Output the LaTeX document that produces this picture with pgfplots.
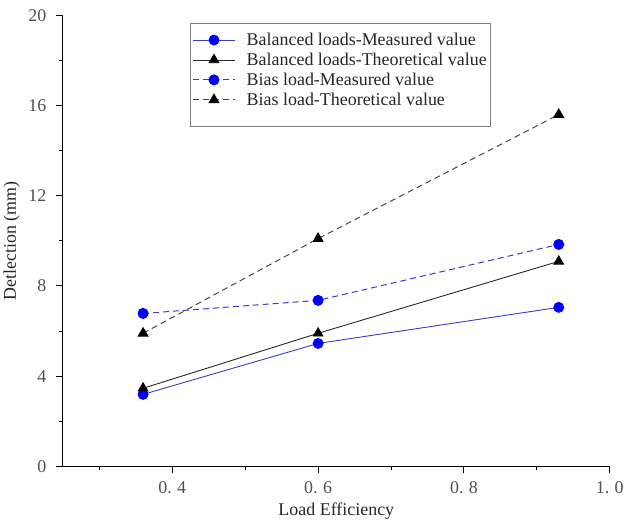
\documentclass[border=0pt]{standalone}
\usepackage{fontspec}
\setmainfont{Liberation Serif}
\usepackage{pgfplots}
\pgfplotsset{compat=1.18}
\definecolor{bline}{RGB}{60,60,190}
\definecolor{kline}{RGB}{40,40,40}
\definecolor{tickgray}{RGB}{80,80,80}
\begin{document}
\begin{tikzpicture}
\begin{axis}[
 width=547bp, height=451bp, scale only axis,
 xmin=0.25, xmax=1.0, ymin=0, ymax=20,
 axis lines=left, axis line style={-, line width=1.2pt, black},
 xtick={0.4,0.6,0.8,1.0}, xticklabels={0.\hspace{0.3em}4,0.\hspace{0.3em}6,0.\hspace{0.3em}8,1.\hspace{0.3em}0},
 minor xtick={0.3,0.5,0.7,0.9},
 ytick={0,4,...,20}, minor ytick={2,6,...,18},
 tick align=outside, major tick length=7bp, minor tick length=4bp,
 every tick/.style={line width=1pt, black},
 /pgf/number format/assume math mode=true,
 ticklabel style={font=\fontsize{18}{18}\selectfont, text=tickgray},
 xticklabel style={yshift=-5bp},
 yticklabel style={xshift=-6bp},
 xlabel={Load Efficiency}, ylabel={Detlection (mm)},
 label style={font=\fontsize{18}{18}\selectfont, text=black!85},
 xlabel style={yshift=-2bp},
 ylabel style={yshift=2bp},
 legend style={at={(0.232,0.984)}, anchor=north west, draw=gray, line width=1pt,
   font=\fontsize{18}{19.5}\selectfont, text=black!85, inner xsep=2bp, inner ysep=8bp,
   row sep=2bp, cells={anchor=west},
   /tikz/every odd column/.append style={column sep=9bp}},
 legend image code/.code={\draw[mark repeat=2,mark phase=2] plot coordinates {(0cm,0cm) (0.75cm,0cm) (1.5cm,0cm)};},
 clip=false
]
\addplot[bline, line width=0.9pt, mark=*, mark size=5bp, mark options={solid, fill=blue, draw=blue}]
 coordinates {(0.36,3.19) (0.6,5.45) (0.93,7.05)};
\addlegendentry{Balanced loads-Measured value}
\addplot[kline, line width=0.9pt, mark=triangle*, mark size=5.5bp, mark options={solid, fill=black, draw=black}]
 coordinates {(0.36,3.46) (0.6,5.9) (0.93,9.09)};
\addlegendentry{Balanced loads-Theoretical value}
\addplot[bline, line width=1pt, dash pattern=on 6bp off 4bp, mark=*, mark size=5bp, mark options={solid, fill=blue, draw=blue}]
 coordinates {(0.36,6.78) (0.6,7.36) (0.93,9.84)};
\addlegendentry{Bias load-Measured value}
\addplot[kline!85, line width=1pt, dash pattern=on 6bp off 4bp, mark=triangle*, mark size=5.5bp, mark options={solid, fill=black, draw=black}]
 coordinates {(0.36,5.9) (0.6,10.1) (0.93,15.6)};
\addlegendentry{Bias load-Theoretical value}
\addlegendimage{empty legend}\addlegendentry{\rule{0pt}{2bp}\hspace{270bp}}
\end{axis}
\path (current bounding box.north) ++(0,6bp) coordinate (topextra);
\end{tikzpicture}
\end{document}
